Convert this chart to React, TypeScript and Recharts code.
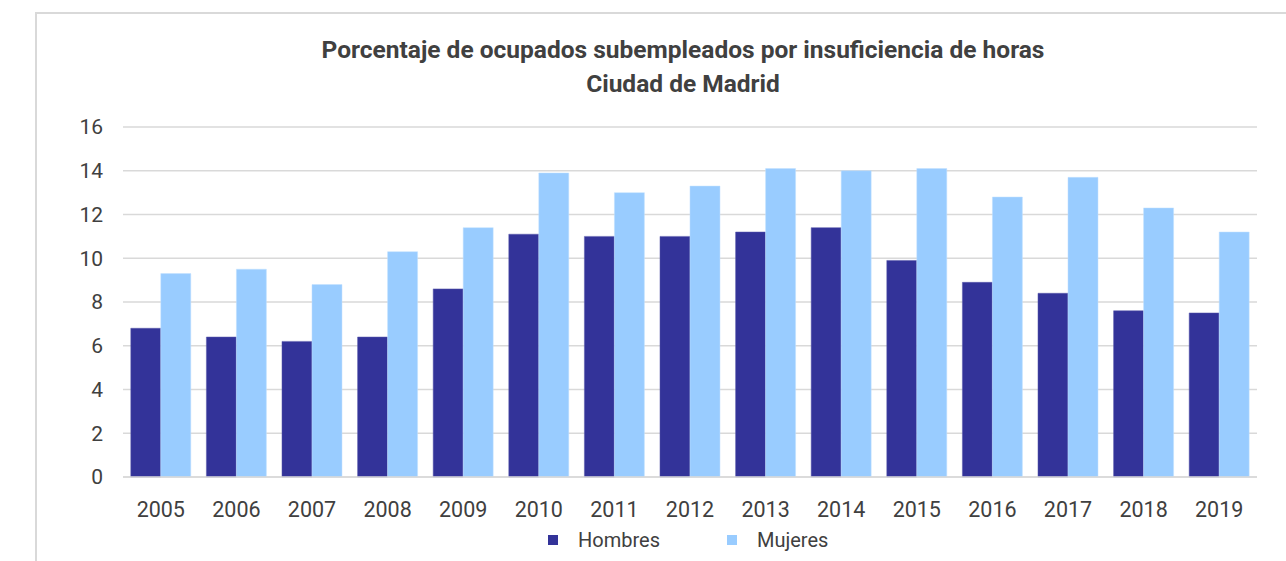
import React from "react"
import { Bar, BarChart, CartesianGrid, XAxis, YAxis } from "recharts"

const years = ["2005", "2006", "2007", "2008", "2009", "2010", "2011", "2012", "2013", "2014", "2015", "2016", "2017", "2018", "2019"]
const hombres = [6.8, 6.4, 6.2, 6.4, 8.6, 11.1, 11.0, 11.0, 11.2, 11.4, 9.9, 8.9, 8.4, 7.6, 7.5]
const mujeres = [9.3, 9.5, 8.8, 10.3, 11.4, 13.9, 13.0, 13.3, 14.1, 14.0, 14.1, 12.8, 13.7, 12.3, 11.2]
const yTicks = [0, 2, 4, 6, 8, 10, 12, 14, 16]

const series = [
  { key: "Hombres", color: "#333399", edge: "#5a5aad" },
  { key: "Mujeres", color: "#99ccff", edge: "#c2e0ff" },
]

const data = years.map((y, i) => ({ year: y, Hombres: hombres[i], Mujeres: mujeres[i] }))

const font = "Roboto, sans-serif"
const textColor = "#404040"

export default function App() {
  return (
    <div style={{ position: "absolute", left: 0, top: 0, width: 1286, height: 561, background: "#fff" }}>
      <div style={{ position: "absolute", left: 35, top: 12, right: 0, bottom: 0, borderTop: "2px solid #d9d9d9", borderLeft: "2px solid #d9d9d9" }} />
      <div style={{ position: "absolute", left: 0, width: 1366, top: 33, textAlign: "center", fontFamily: font, fontWeight: 700, fontSize: 24.5, lineHeight: "34px", color: textColor }}>
        Porcentaje de ocupados subempleados por insuficiencia de horas
        <br />
        Ciudad de Madrid
      </div>
      <BarChart
        width={1286}
        height={561}
        data={data}
        margin={{ top: 127, right: 29, bottom: 54, left: 0 }}
        barCategoryGap="10.3%"
        barGap={0}
        style={{ position: "absolute", left: 0, top: 0 }}
      >
        <CartesianGrid vertical={false} stroke="#d9d9d9" strokeWidth={1.5} />
        <XAxis
          dataKey="year"
          height={30}
          axisLine={{ stroke: "#d9d9d9", strokeWidth: 1.5 }}
          tickLine={false}
          tickSize={6}
          tickMargin={19}
          tick={{ fill: textColor, fontSize: 21.5, fontFamily: font }}
        />
        <YAxis
          width={123}
          domain={[0, 16]}
          ticks={yTicks}
          axisLine={false}
          tickLine={false}
          tickSize={6}
          tickMargin={14}
          tick={{ fill: textColor, fontSize: 21, fontFamily: font }}
        />
        {series.map((s) => (
          <Bar key={s.key} dataKey={s.key} fill={s.color} stroke={s.edge} strokeWidth={0.5} isAnimationActive={false} />
        ))}
      </BarChart>
      <div style={{ position: "absolute", left: 548, top: 527, height: 26, display: "flex", alignItems: "center", fontFamily: font, fontSize: 20, color: textColor }}>
        {series.map((s, i) => (
          <div key={s.key} style={{ display: "flex", alignItems: "center", marginRight: i === 0 ? 67 : 0 }}>
            <span style={{ width: 10, height: 10, background: s.color, marginRight: 20, display: "inline-block" }} />
            <span>{s.key}</span>
          </div>
        ))}
      </div>
    </div>
  )
}
